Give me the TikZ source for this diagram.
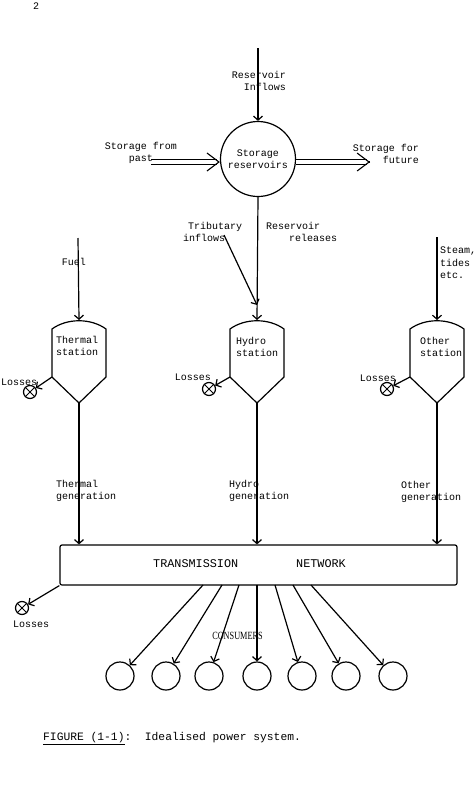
\documentclass[tikz,border=0pt]{standalone}
\usepackage{fontspec}
\usepackage{graphicx}
\setmainfont{Liberation Mono}
\newfontfamily\consfont{Liberation Serif}
\usetikzlibrary{arrows.meta}

\begin{document}
\begin{tikzpicture}[x=1pt,y=-1pt,
    flow/.style={line width=1.2pt,-{Straight Barb[length=4pt,width=9pt]}},
    store/.style={double,double distance=4.5pt,line width=0.9pt},
    storetip/.style={line width=1.1pt,-{Straight Barb[length=12pt,width=18pt]}},
    type/.style={font=\fontsize{10}{12.5}\selectfont,inner sep=0pt},
    loss/.style={circle,draw,line width=1.2pt,minimum size=13pt,inner sep=0pt},
    consumer/.style={circle,draw,line width=1.2pt,minimum size=28pt,inner sep=0pt}]

\useasboundingbox (0,0) rectangle (476,788);

\node[type] (page) at (36,6) {2};

% storage reservoirs
\node[circle,draw,line width=1.2pt,minimum size=75pt,inner sep=0pt,type,align=center] (res) at (258,159) {Storage\\reservoirs};
\coordinate (inflow) at (258,48);
\coordinate (past) at (151,162);
\coordinate (future) at (370,162);
\draw[flow] (inflow) -- (res.north);
\draw[store,shorten >=3pt] (past) -- (past -| res.west);
\draw[storetip] (past -| res.west) ++(-1,0) -- (past -| res.west);
\draw[store,shorten >=3pt] (future -| res.east) -- (future);
\draw[storetip] (future) ++(-1,0) -- (future);

\node[type,align=right,anchor=east] (inlab) at (286,81) {Reservoir\\Inflows};
\node[type,align=center] (pastlab) at (141,153) {Storage from\\past};
\node[type,align=right,anchor=east] (futlab) at (419,154) {Storage for\\future};
\node[type,align=left,anchor=west] (triblab) at (183,232) {\hspace{5pt}Tributary\\inflows};
\node[type,align=left,anchor=west] (rellab) at (266,232) {Reservoir\\\hspace{23pt}releases};

% stations
\foreach \n/\x in {th/79,hy/257,ot/437}{
  \draw[line width=1.2pt] ({\x-27},329) .. controls ({\x-12},318) and ({\x+12},318) .. ({\x+27},329)
     -- ({\x+27},377) -- (\x,403) -- ({\x-27},377) -- cycle;
  \coordinate (top-\n) at (\x,320);
  \coordinate (bot-\n) at (\x,403);
  \coordinate (side-\n) at ({\x-27},377);
}
\node[type,align=left,anchor=west] (thlab) at (56,346) {Thermal\\station};
\node[type,align=left,anchor=west] (hylab) at (236,347) {Hydro\\station};
\node[type,align=left,anchor=west] (otlab) at (420,347) {Other\\station};

% inputs
\coordinate (fuel) at (78,238);
\coordinate (steam) at (437,237);
\coordinate (trib) at (224,235);
\coordinate (tribend) at (257,305);
\draw[flow] (fuel) -- (top-th);
\draw[flow] (steam) -- (top-ot);
\draw[flow] (res.south) -- (top-hy);
\draw[flow] (trib) -- (tribend);
\node[type] (fuellab) at (74,262) {Fuel};
\node[type,align=left,anchor=west] (steamlab) at (440,263) {Steam,\\tides\\etc.};

% losses
\node[loss] (thloss) at (30,392) {};
\node[loss] (hyloss) at (209,389) {};
\node[loss] (otloss) at (387,389) {};
\node[loss] (netloss) at (22,608) {};
\foreach \l in {thloss,hyloss,otloss,netloss}
  \draw[line width=0.8pt] (\l.north west) -- (\l.south east) (\l.north east) -- (\l.south west);
\draw[flow] (side-th) -- (thloss);
\draw[flow] (side-hy) -- (hyloss);
\draw[flow] (side-ot) -- (otloss);
\node[type,anchor=west] (thllab) at (1,382) {Losses};
\node[type,anchor=east] (hyllab) at (211,377) {Losses};
\node[type,anchor=east] (otllab) at (396,378) {Losses};
\node[type,anchor=west] (netllab) at (13,624) {Losses};

% transmission network
\node[draw,line width=1.2pt,rounded corners=2pt,minimum width=397pt,minimum height=40pt] (net) at (258.5,565) {};
\node[font=\fontsize{11.8}{14}\selectfont,inner sep=0pt] (netlab) at (249.5,564) {TRANSMISSION\hspace{58pt}NETWORK};
\draw[flow] (bot-th) -- (bot-th |- net.north);
\draw[flow] (bot-hy) -- (bot-hy |- net.north);
\draw[flow] (bot-ot) -- (bot-ot |- net.north);
\draw[flow] (net.south west) -- (netloss);
\node[type,align=left,anchor=west] (thglab) at (56,491) {Thermal\\generation};
\node[type,align=left,anchor=west] (hyglab) at (229,491) {Hydro\\generation};
\node[type,align=left,anchor=west] (otglab) at (401,492) {Other\\generation};

% consumers
\foreach \i/\sx/\cx in {1/203/120,2/222/166,3/239/209,4/257/257,5/275/302,6/293/346,7/311/393}{
  \node[consumer] (c\i) at (\cx,676) {};
  \coordinate (o\i) at (\sx,585);
  \draw[flow] (o\i) -- (c\i);
}
\node[inner sep=0pt] (conslab) at (237.5,636) {\consfont\fontsize{11}{12}\selectfont\scalebox{0.75}[1]{CONSUMERS}};

\node[font=\fontsize{11.3}{13}\selectfont,inner sep=0pt,anchor=west] (cap) at (43,739) {\underline{FIGURE (1-1)}:\ \ Idealised power system.};
\end{tikzpicture}
\end{document}
